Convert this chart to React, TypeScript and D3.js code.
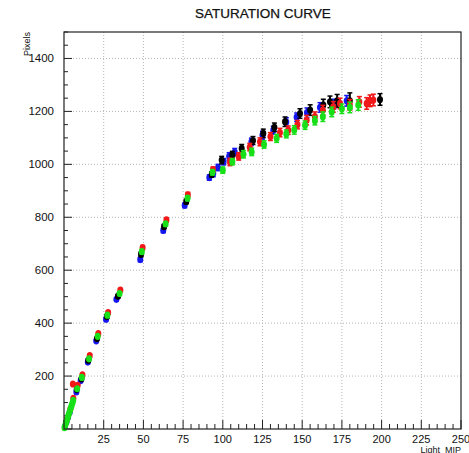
import React from "react";
import * as d3 from "d3";

// Data: [Light_MIP, Pixels, yError]
const blueSeries: [number, number, number][] = [
  [0.6, 9, 0], [1.6, 27, 0], [2.6, 45, 0], [3.6, 63, 0],
  [7.8, 140, 4], [10.5, 183, 4], [15.0, 253, 5], [20.3, 333, 5], [26.5, 415, 6], [33.0, 490, 6],
  [48.0, 640, 8], [62.5, 750, 8], [76.0, 845, 9], [91.5, 950, 10],
  [94.0, 965, 12], [97.0, 988, 12], [100.5, 1010, 12], [104.0, 1030, 14], [107.5, 1046, 14],
  [118.0, 1085, 14], [125.0, 1110, 15], [131.8, 1129, 15], [140.0, 1160, 16], [146.5, 1178, 16],
  [153.0, 1195, 18], [161.2, 1215, 18], [170.0, 1228, 18], [178.0, 1240, 20],
];

const blackSeries: [number, number, number][] = [
  [8.0, 150, 4], [11.0, 190, 4], [15.3, 260, 5], [20.8, 342, 5], [27.0, 425, 6], [34.0, 502, 6],
  [48.5, 660, 8], [63.0, 765, 8], [77.0, 860, 9], [93.0, 962, 10],
  [99.3, 1016, 14], [106.0, 1035, 14], [111.9, 1060, 15], [119.0, 1090, 15], [125.5, 1117, 16],
  [132.5, 1140, 16], [139.2, 1161, 18], [148.6, 1192, 18], [155.0, 1205, 20], [163.3, 1224, 22],
  [167.5, 1236, 22], [172.0, 1240, 24], [180.0, 1240, 30], [199.0, 1245, 22],
];

const redSeries: [number, number, number][] = [
  [2.0, 38, 0], [4.0, 75, 0], [5.9, 116, 3], [5.6, 170, 3], [8.6, 165, 4], [11.6, 205, 4],
  [16.2, 277, 5], [21.6, 360, 5], [27.8, 440, 6], [35.5, 525, 6],
  [49.5, 685, 8], [64.5, 790, 8], [78.0, 885, 9], [93.8, 980, 10],
  [104.5, 1009, 14], [110.0, 1030, 14], [117.0, 1065, 14], [123.4, 1085, 15], [130.0, 1105, 15],
  [136.0, 1120, 16], [141.2, 1129, 16], [147.0, 1150, 16], [152.8, 1167, 18], [158.0, 1180, 18],
  [163.0, 1205, 18], [169.6, 1217, 20], [173.8, 1230, 20], [180.0, 1225, 20], [186.0, 1236, 20],
  [190.6, 1230, 22], [192.7, 1240, 22], [194.8, 1243, 22],
];

const greenSeries: [number, number, number][] = [
  [0.3, 5, 0], [0.8, 14, 0], [1.3, 24, 0], [1.8, 33, 0], [2.3, 42, 0], [2.8, 52, 0],
  [3.3, 61, 0], [3.8, 70, 0], [4.3, 80, 0], [4.8, 89, 0], [5.3, 98, 0], [5.8, 108, 0],
  [8.3, 152, 4], [11.2, 195, 4], [15.8, 265, 5], [21.2, 350, 5], [27.3, 430, 6], [35.0, 512, 6],
  [49.0, 670, 8], [64.0, 775, 8], [77.8, 872, 9], [93.5, 970, 10],
  [100.0, 978, 12], [106.0, 1010, 12], [113.0, 1038, 14], [118.2, 1047, 14], [126.0, 1075, 14],
  [133.9, 1098, 15], [140.0, 1115, 15], [145.0, 1130, 16], [151.8, 1148, 16], [158.0, 1165, 16],
  [163.0, 1180, 18], [168.6, 1198, 18], [175.0, 1210, 18], [180.0, 1215, 20], [185.3, 1224, 20],
];

const xTickValues = [25, 50, 75, 100, 125, 150, 175, 200, 225, 250];
const yTickValues = [200, 400, 600, 800, 1000, 1200, 1400];

const seriesList = [
  { name: "blue", color: "#1515ee", data: blueSeries },
  { name: "black", color: "#000000", data: blackSeries },
  { name: "red", color: "#f01818", data: redSeries },
  { name: "green", color: "#18e018", data: greenSeries },
];

const W = 469;
const H = 453;
const L = 64, R = 461, T = 32, B = 429;

export default function App() {
  const x = d3.scaleLinear().domain([0, 250]).range([L, R]);
  const y = d3.scaleLinear().domain([0, 1500]).range([B, T]);
  const xMinor = d3.range(0, 251, 5);
  const yMinor = d3.range(0, 1501, 50);
  const font = "'Liberation Sans', Arial, Helvetica, sans-serif";

  return (
    <svg width={W} height={H} style={{ position: "absolute", left: 0, top: 0, background: "#fff" }} fontFamily={font}>
      <rect x={0} y={0} width={W} height={H} fill="#fff" />
      <text x={263} y={18} textAnchor="middle" fontSize={13.5} fill="#111" stroke="#111" strokeWidth={0.25}>SATURATION CURVE</text>

      {/* grid */}
      {xTickValues.filter(v => v < 250).map(v => (
        <line key={"gx" + v} x1={x(v)} x2={x(v)} y1={T} y2={B} stroke="#b5b5b5" strokeWidth={1} strokeDasharray="1,2" />
      ))}
      {yTickValues.map(v => (
        <line key={"gy" + v} x1={L} x2={R} y1={y(v)} y2={y(v)} stroke="#b5b5b5" strokeWidth={1} strokeDasharray="1,2" />
      ))}

      {/* ticks */}
      {xMinor.map(v => {
        const major = v % 25 === 0;
        return <line key={"tx" + v} x1={x(v)} x2={x(v)} y1={B} y2={B - (major ? 9 : 5)} stroke="#222" strokeWidth={1} />;
      })}
      {yMinor.map(v => {
        const major = v % 200 === 0;
        return <line key={"ty" + v} x1={L} x2={L + (major ? 8 : 4)} y1={y(v)} y2={y(v)} stroke="#222" strokeWidth={1} />;
      })}

      {/* data */}
      {seriesList.map(s => (
        <g key={s.name}>
          {s.data.map((d, i) => (
            <g key={i}>
              {d[2] > 0 && (
                <>
                  <line x1={x(d[0])} x2={x(d[0])} y1={y(d[1] - d[2])} y2={y(d[1] + d[2])} stroke={s.color} strokeWidth={2} />
                  <line x1={x(d[0]) - 2.5} x2={x(d[0]) + 2.5} y1={y(d[1] + d[2])} y2={y(d[1] + d[2])} stroke={s.color} strokeWidth={1.5} />
                  <line x1={x(d[0]) - 2.5} x2={x(d[0]) + 2.5} y1={y(d[1] - d[2])} y2={y(d[1] - d[2])} stroke={s.color} strokeWidth={1.5} />
                </>
              )}
              <ellipse cx={x(d[0])} cy={y(d[1])} rx={3} ry={3.6} fill={s.color} />
            </g>
          ))}
        </g>
      ))}

      {/* frame */}
      <rect x={L} y={T} width={R - L} height={B - T} fill="none" stroke="#222" strokeWidth={1.2} />

      {/* tick labels */}
      {xTickValues.map(v => (
        <text key={"lx" + v} x={x(v)} y={442.5} textAnchor="middle" fontSize={11} fill="#111">{v}</text>
      ))}
      {yTickValues.map(v => (
        <text key={"ly" + v} x={54} y={y(v) + 4} textAnchor="end" fontSize={11.5} fill="#111">{v}</text>
      ))}

      <text x={461} y={452.5} textAnchor="end" fontSize={9} fill="#111">Light_MIP</text>
      <text transform={`translate(30,${T}) rotate(-90)`} textAnchor="end" fontSize={9} fill="#111">Pixels</text>
    </svg>
  );
}
